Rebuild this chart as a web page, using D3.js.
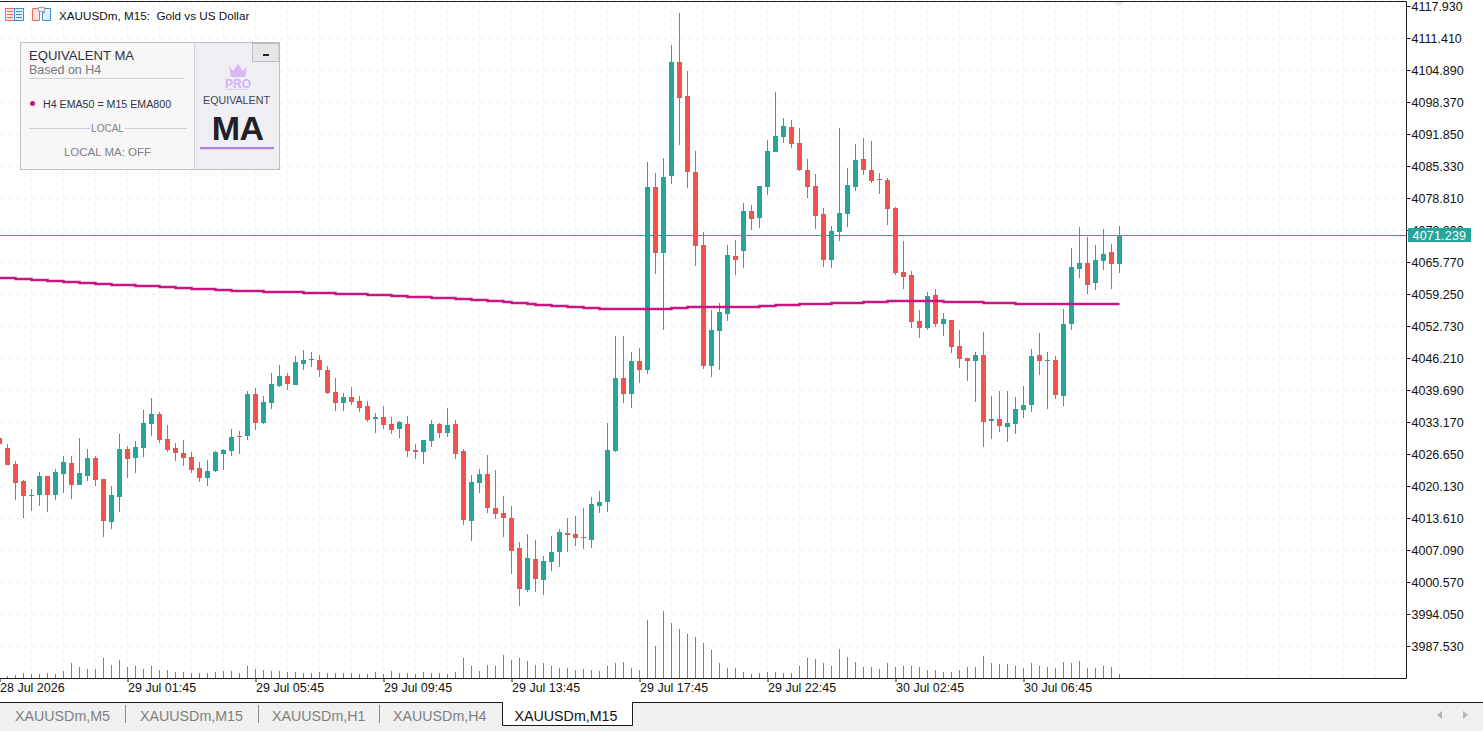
<!DOCTYPE html>
<html>
<head>
<meta charset="utf-8">
<title>XAUUSDm, M15</title>
<script src="https://cdn.jsdelivr.net/npm/d3@7"></script>
<style>
html, body { margin: 0; padding: 0; background: #fff; overflow: hidden; }
svg { display: block; }
text { font-family: "Liberation Sans", Arial, sans-serif; }
.axis text { font-size: 12.5px; fill: #111; }
</style>
</head>
<body>
<svg id="chart"></svg>
<script>
const opens = [
  4029.9,4027.9,4024.6,4021.1,4018.1,4018.3,4022.2,4018.3,4022.6,4024.8,
  4020.3,4022.2,4025.8,4021.5,4012.8,4017.9,4027.7,4025.8,4027.9,4032.8,
  4034.8,4029.7,4027.9,4026.8,4026.0,4023.8,4021.7,4023.2,4026.6,4027.2,
  4030.3,4030.3,4038.9,4033.0,4037.0,4040.5,4042.5,4040.7,4045.0,4045.8,
  4045.8,4043.8,4039.3,4037.0,4038.3,4037.4,4036.4,4033.8,4034.2,4032.8,
  4031.7,4032.8,4027.5,4027.0,4029.3,4032.8,4030.9,4032.8,4027.2,4013.0,
  4020.7,4022.6,4015.6,4014.6,4013.6,4007.5,3998.9,4005.3,4001.0,4004.6,
  4006.7,4010.5,4010.3,4009.7,4009.1,4016.1,4016.9,4027.2,4042.1,4038.9,
  4045.6,4043.8,4081.0,4067.6,4083.3,4106.5,4099.6,4084.1,4069.2,4044.6,
  4051.7,4055.2,4067.0,4068.0,4076.2,4074.7,4081.0,4088.2,4091.2,4093.3,
  4090.0,4084.5,4081.3,4075.5,4066.2,4071.9,4075.5,4081.0,4086.8,4084.5,
  4082.7,4082.5,4076.8,4063.7,4063.1,4053.7,4052.3,4059.0,4053.1,4053.9,
  4048.7,4046.2,4045.6,4046.8,4033.4,4033.8,4032.1,4032.8,4035.6,4036.6,
  4046.8,4045.6,4045.8,4038.5,4053.1,4064.3,4065.6,4061.5,4066.0,4067.8,
  4065.4
];
const highs = [
  4030.1,4028.7,4025.2,4021.3,4019.5,4023.0,4022.2,4023.6,4026.2,4026.2,
  4029.9,4027.7,4026.2,4021.5,4020.1,4030.7,4028.3,4029.3,4035.6,4038.1,
  4035.2,4032.6,4028.9,4029.5,4027.0,4025.0,4025.4,4027.2,4027.7,4031.7,
  4031.3,4039.5,4040.1,4038.5,4043.1,4044.8,4043.1,4046.6,4047.8,4047.4,
  4046.8,4044.6,4042.1,4039.1,4040.3,4038.5,4037.4,4035.0,4036.4,4034.2,
  4033.4,4034.4,4028.7,4029.5,4033.6,4033.0,4036.0,4033.6,4027.7,4022.4,
  4023.6,4026.4,4023.4,4018.1,4016.1,4008.7,4010.3,4009.1,4005.9,4009.9,
  4011.4,4013.6,4014.0,4015.6,4017.9,4019.1,4033.0,4050.7,4050.7,4047.4,
  4048.2,4086.1,4083.9,4087.0,4110.0,4116.5,4104.7,4088.4,4071.9,4056.0,
  4057.4,4069.2,4070.3,4077.8,4077.4,4081.3,4090.6,4100.4,4095.1,4094.7,
  4093.1,4086.8,4083.7,4076.8,4073.1,4093.1,4084.9,4089.8,4091.0,4090.4,
  4083.9,4082.9,4077.0,4070.0,4063.9,4056.0,4059.7,4060.3,4055.4,4053.9,
  4051.9,4046.2,4047.4,4051.5,4038.5,4039.5,4039.5,4038.3,4040.5,4048.0,
  4051.3,4047.4,4046.6,4056.2,4068.6,4072.9,4070.9,4069.2,4072.5,4069.4,
  4073.1
];
const lows = [
  4028.7,4024.4,4017.3,4013.6,4015.0,4016.1,4014.8,4017.3,4018.7,4017.5,
  4020.3,4021.1,4020.1,4009.7,4011.4,4014.8,4021.7,4022.8,4026.0,4030.3,
  4028.9,4027.0,4025.2,4024.2,4022.8,4020.9,4020.1,4023.0,4023.4,4026.2,
  4026.6,4029.5,4031.5,4032.8,4035.8,4040.3,4039.7,4040.7,4043.8,4044.4,
  4042.3,4038.9,4035.4,4035.4,4036.6,4035.2,4033.2,4030.9,4031.7,4030.7,
  4029.9,4026.0,4025.6,4024.6,4028.1,4029.9,4030.1,4025.6,4012.2,4008.9,
  4018.7,4014.6,4013.4,4009.7,4002.2,3995.7,3998.5,3998.5,3997.9,4002.8,
  4003.6,4006.7,4007.9,4007.3,4007.5,4014.6,4014.8,4027.0,4037.0,4036.0,
  4041.1,4042.9,4063.3,4051.9,4081.7,4089.6,4080.9,4065.0,4044.0,4042.3,
  4043.8,4053.7,4063.1,4064.5,4072.3,4072.7,4079.4,4088.2,4090.0,4089.0,
  4084.3,4078.8,4072.5,4064.8,4064.5,4070.0,4072.9,4080.2,4083.5,4081.9,
  4079.6,4073.3,4063.1,4060.3,4052.3,4050.3,4051.9,4052.5,4050.7,4047.2,
  4044.2,4041.5,4037.2,4028.1,4029.7,4031.1,4029.1,4030.7,4034.0,4035.2,
  4042.7,4035.8,4037.9,4036.4,4051.9,4062.5,4059.2,4060.1,4064.1,4060.3,
  4063.5
];
const closes = [
  4028.7,4024.4,4020.7,4018.1,4018.3,4022.2,4018.3,4023.0,4025.0,4020.3,
  4022.8,4025.8,4021.3,4013.0,4018.3,4027.7,4025.6,4028.1,4033.0,4034.8,
  4029.5,4027.5,4026.8,4025.8,4023.4,4021.7,4023.2,4027.0,4027.5,4030.1,
  4030.1,4038.9,4033.0,4037.2,4040.9,4042.5,4040.9,4045.4,4045.8,4046.0,
  4043.8,4039.1,4037.0,4038.3,4037.2,4036.0,4033.6,4034.2,4032.6,4031.5,
  4033.2,4027.2,4027.0,4029.5,4032.8,4030.9,4032.6,4026.6,4013.2,4020.9,
  4022.6,4015.6,4014.4,4013.6,4006.9,3999.1,4005.5,4001.2,4004.9,4006.7,
  4010.7,4010.1,4009.5,4009.5,4016.5,4016.9,4027.5,4042.1,4038.9,4045.6,
  4043.8,4081.0,4067.6,4083.1,4106.5,4099.2,4084.1,4069.0,4044.6,4051.9,
  4055.6,4067.2,4066.2,4076.2,4074.5,4081.3,4088.4,4091.4,4093.5,4089.8,
  4084.5,4081.0,4075.1,4066.2,4072.1,4075.8,4081.5,4086.6,4084.5,4082.3,
  4082.5,4076.6,4063.5,4062.7,4053.5,4052.3,4058.8,4053.1,4054.2,4048.4,
  4046.0,4045.6,4046.8,4033.2,4033.8,4032.3,4033.0,4035.8,4036.6,4046.6,
  4045.6,4045.8,4038.7,4053.1,4064.8,4065.6,4061.1,4066.2,4067.4,4065.4,
  4071.239
];
// H4 EMA50 as drawn on M15, one value per bar
const maValues = [
  4062.5,4062.5,4062.3,4062.3,4062.1,4062.1,4061.9,4061.9,4061.7,4061.7,
  4061.5,4061.5,4061.3,4061.3,4061.1,4061.1,4061.1,4060.9,4060.9,4060.9,
  4060.7,4060.7,4060.5,4060.5,4060.3,4060.3,4060.3,4060.1,4060.1,4059.9,
  4059.9,4059.9,4059.9,4059.7,4059.7,4059.7,4059.7,4059.7,4059.4,4059.4,
  4059.4,4059.4,4059.2,4059.2,4059.2,4059.2,4059.0,4059.0,4059.0,4058.8,
  4058.8,4058.6,4058.6,4058.6,4058.4,4058.4,4058.4,4058.2,4058.2,4058.0,
  4058.0,4057.8,4057.8,4057.6,4057.4,4057.4,4057.2,4057.0,4057.0,4056.8,
  4056.8,4056.6,4056.6,4056.4,4056.4,4056.2,4056.2,4056.2,4056.2,4056.2,
  4056.2,4056.2,4056.2,4056.2,4056.4,4056.4,4056.6,4056.6,4056.6,4056.6,
  4056.6,4056.6,4056.6,4056.6,4056.6,4056.8,4056.8,4057.0,4057.0,4057.0,
  4057.2,4057.2,4057.2,4057.2,4057.4,4057.4,4057.4,4057.4,4057.6,4057.6,
  4057.6,4057.8,4057.8,4057.8,4057.8,4057.8,4057.8,4057.8,4057.6,4057.6,
  4057.6,4057.6,4057.6,4057.4,4057.4,4057.4,4057.4,4057.2,4057.2,4057.2,
  4057.2,4057.2,4057.2,4057.2,4057.2,4057.2,4057.2,4057.2,4057.2,4057.2,
  4057.2
];
const volumes = [
  200,200,300,500,400,400,500,400,700,1500,
  1100,900,900,2000,1300,1800,1100,1200,900,1200,
  800,800,600,600,500,500,500,600,700,700,
  500,1200,900,800,700,700,600,600,500,500,
  600,500,500,500,500,400,400,600,400,700,
  500,500,400,600,500,500,400,600,2000,1200,
  700,1300,1200,2300,1800,2000,1700,1300,1500,1200,
  1000,1000,800,900,800,700,1200,1500,1600,1000,
  800,5800,3200,6700,5500,4900,4400,4100,3500,2800,
  1500,1000,1000,600,400,500,600,600,500,500,
  1200,2000,1900,1500,1200,2900,2100,1600,1100,1100,
  900,1500,1100,1200,1200,1100,800,800,600,600,
  800,1100,1100,2200,1500,1400,1400,1200,1000,1500,
  1200,1100,1000,1600,1500,1700,1000,1000,1200,1100,
  400
];
const priceTicks = [
  4117.93,4111.41,4104.89,4098.37,4091.85,4085.33,4078.81,4072.29,4065.77,4059.25,4052.73,
  4046.21,4039.69,4033.17,4026.65,4020.13,4013.61,4007.09,4000.57,3994.05,3987.53
];
const timeBars = [0, 16, 32, 48, 64, 80, 96, 112, 128];
const timeLabels = ['28 Jul 2026','29 Jul 01:45','29 Jul 05:45','29 Jul 09:45','29 Jul 13:45','29 Jul 17:45','29 Jul 22:45','30 Jul 02:45','30 Jul 06:45'];
const tabNames = ['XAUUSDm,M5','XAUUSDm,M15','XAUUSDm,H1','XAUUSDm,H4','XAUUSDm,M15'];
const lastPrice = 4071.239;

const W = 1483, H = 731;
const plotRight = 1407, plotBottom = 678;
const green = '#26a69a', red = '#ef5350', maColor = '#c71585';
const ink = '#1a1a1a';

const svg = d3.select('#chart').attr('width', W).attr('height', H);

// scales: 8px per bar, 32px per price step
const xScale = d3.scaleLinear().domain([0, 140]).range([-0.5, 1119.5]);
const yScale = d3.scaleLinear().domain([4117.93, 3987.53]).range([6, 646]);
const volScale = d3.scaleLinear().domain([0, 6700]).range([plotBottom, 611]);
const py = p => Math.round(yScale(p));

const bars = d3.range(opens.length).map(i => ({
  i, open: opens[i], high: highs[i], low: lows[i], close: closes[i], ma: maValues[i], vol: volumes[i]
}));
const barColor = d => d.close >= d.open ? green : red;

// dashed grid
const grid = svg.append('g').attr('stroke', '#f1f1f1').attr('stroke-dasharray', '4,4');
grid.selectAll('.h').data(priceTicks).enter().append('line')
  .attr('x1', 0).attr('x2', plotRight)
  .attr('y1', d => py(d) + 0.5).attr('y2', d => py(d) + 0.5);
grid.selectAll('.v').data(d3.range(4, 176, 4)).enter().append('line')
  .attr('x1', d => xScale(d)).attr('x2', d => xScale(d))
  .attr('y1', 2).attr('y2', plotBottom);

// volumes
svg.append('g').selectAll('rect').data(bars).enter().append('rect')
  .attr('x', d => xScale(d.i) - 0.5).attr('width', 1)
  .attr('y', d => Math.round(volScale(d.vol)))
  .attr('height', d => plotBottom - Math.round(volScale(d.vol)))
  .attr('fill', green);

// last price line
svg.append('line')
  .attr('x1', 0).attr('x2', plotRight)
  .attr('y1', py(lastPrice) + 0.5).attr('y2', py(lastPrice) + 0.5)
  .attr('stroke', green);

// candles
const candles = svg.append('g').selectAll('g').data(bars).enter().append('g').attr('fill', barColor);
candles.append('rect')
  .attr('x', d => xScale(d.i) - 0.5).attr('width', 1)
  .attr('y', d => py(d.high))
  .attr('height', d => py(d.low) - py(d.high));
candles.append('rect')
  .attr('x', d => xScale(d.i) - 2.5).attr('width', 5)
  .attr('y', d => py(Math.max(d.open, d.close)))
  .attr('height', d => Math.max(1, py(Math.min(d.open, d.close)) - py(Math.max(d.open, d.close))));

// moving average
const maLine = d3.line().x(d => xScale(d.i)).y(d => py(d.ma)).curve(d3.curveStepAfter);
svg.append('path').datum(bars)
  .attr('d', maLine)
  .attr('fill', 'none').attr('stroke', maColor).attr('stroke-width', 2.4);

// chart shift marker
svg.append('path').attr('d', 'M1113,2H1124L1118.5,7Z').attr('fill', '#ececec');

// frame
svg.append('path')
  .attr('d', `M0,1.5H${plotRight - 0.5}V${plotBottom + 0.5}H0`)
  .attr('fill', 'none').attr('stroke', ink);

// axes
const yAxis = svg.append('g').attr('class', 'axis')
  .attr('transform', `translate(${plotRight - 0.5},0)`)
  .call(d3.axisRight(yScale).tickValues(priceTicks).tickFormat(d3.format('.3f')).tickSize(4).tickPadding(1));
yAxis.select('.domain').remove();
yAxis.selectAll('.tick line').attr('stroke', ink);
yAxis.selectAll('text').attr('fill', '#111');

const xAxis = svg.append('g').attr('class', 'axis')
  .attr('transform', `translate(0,${plotBottom})`)
  .call(d3.axisBottom(xScale).tickValues(timeBars).tickFormat((d, i) => timeLabels[i]).tickSize(4).tickPadding(1));
xAxis.select('.domain').remove();
xAxis.selectAll('.tick line').attr('stroke', ink);
xAxis.selectAll('text').attr('text-anchor', 'start').attr('fill', '#111');

// last price tag, sits over the 4072.290 label
svg.append('rect').attr('x', 1408).attr('y', 228).attr('width', 63).attr('height', 14).attr('fill', green);
svg.append('text').attr('x', 1412.5).attr('y', 239.5).attr('font-size', 12.5).attr('fill', '#fff')
  .attr('letter-spacing', 0.2).text(d3.format('.3f')(lastPrice));

// header
const header = svg.append('g');
header.append('rect').attr('x', 5.5).attr('y', 8.5).attr('width', 18).attr('height', 12).attr('fill', '#fff').attr('stroke', '#ef6a5a');
header.append('rect').attr('x', 5.5).attr('y', 8.5).attr('width', 9).attr('height', 12).attr('fill', '#fde3df').attr('stroke', '#ef6a5a');
header.append('rect').attr('x', 14.5).attr('y', 8.5).attr('width', 9).attr('height', 12).attr('fill', '#e3f0fa').attr('stroke', '#3d8fd0');
[11, 14, 17].forEach(v => {
  header.append('line').attr('x1', 7).attr('x2', 13).attr('y1', v + 0.5).attr('y2', v + 0.5).attr('stroke', '#ef6a5a');
  header.append('line').attr('x1', 16).attr('x2', 22).attr('y1', v + 0.5).attr('y2', v + 0.5).attr('stroke', '#3d8fd0');
});
header.append('path').attr('d', 'M32.5,8.5H39.5V20.5H32.5Z').attr('fill', '#fde3df').attr('stroke', '#ef6a5a');
header.append('path').attr('d', 'M42.5,12.5H44.5V8.5H50.5V20.5H42.5Z').attr('fill', '#e3f0fa').attr('stroke', '#3d8fd0');
header.append('rect').attr('x', 38.5).attr('y', 7.5).attr('width', 6).attr('height', 4).attr('fill', '#eee').attr('stroke', '#aaa');
header.append('text').attr('x', 59).attr('y', 20).attr('font-size', 11.7).attr('fill', '#111')
  .attr('xml:space', 'preserve').text('XAUUSDm, M15:  Gold vs US Dollar');

// EQUIVALENT MA panel
const panel = svg.append('g');
panel.append('rect').attr('x', 20.5).attr('y', 42.5).attr('width', 259).attr('height', 127).attr('fill', '#f7f7f8').attr('stroke', '#bdbdc2');
panel.append('rect').attr('x', 194.5).attr('y', 43).attr('width', 84.5).attr('height', 126).attr('fill', '#eeeef3');
panel.append('line').attr('x1', 194.5).attr('x2', 194.5).attr('y1', 43).attr('y2', 169).attr('stroke', '#d2d2d8');
panel.append('rect').attr('x', 252.5).attr('y', 43.5).attr('width', 26.5).attr('height', 18).attr('fill', '#e6e6e8').attr('stroke', '#bdbdc2');
panel.append('rect').attr('x', 263).attr('y', 54).attr('width', 6).attr('height', 2).attr('fill', '#222');
const panelText = (x, y, size, color, str, anchor, weight) => panel.append('text')
  .attr('x', x).attr('y', y).attr('font-size', size).attr('fill', color)
  .attr('text-anchor', anchor || 'start').attr('font-weight', weight || 'normal').text(str);
panelText(29, 60, 13.1, '#2e2e3c', 'EQUIVALENT MA');
panelText(29, 74, 12.5, '#787880', 'Based on H4');
panel.append('line').attr('x1', 29).attr('x2', 184).attr('y1', 78.5).attr('y2', 78.5).attr('stroke', '#cfcfd4');
panel.append('circle').attr('cx', 32.5).attr('cy', 103.5).attr('r', 2.5).attr('fill', maColor);
panelText(43, 108, 10.65, '#33333d', 'H4 EMA50 = M15 EMA800');
panel.append('line').attr('x1', 29).attr('x2', 90).attr('y1', 128.5).attr('y2', 128.5).attr('stroke', '#cfcfd4');
panel.append('line').attr('x1', 125).attr('x2', 187).attr('y1', 128.5).attr('y2', 128.5).attr('stroke', '#cfcfd4');
panelText(107.5, 132, 10, '#808088', 'LOCAL', 'middle');
panelText(107.5, 156, 11.5, '#808088', 'LOCAL MA: OFF', 'middle');
panel.append('path').attr('d', 'M229,66L233,71L238,64L243,71L247,66L245,77H231Z').attr('fill', '#d9b8f5');
panelText(238, 88, 12, '#d5b3f5', 'PRO', 'middle', 'bold');
panel.append('line').attr('x1', 226).attr('x2', 249).attr('y1', 89.5).attr('y2', 89.5).attr('stroke', '#e0ccf5');
panelText(236.5, 104, 10.7, '#444450', 'EQUIVALENT', 'middle');
panelText(237.5, 140, 34, '#202026', 'MA', 'middle', 'bold').attr('letter-spacing', -0.6);
panel.append('rect').attr('x', 200).attr('y', 149).attr('width', 74).attr('height', 1).attr('fill', '#ddd8e6');
panel.append('rect').attr('x', 200).attr('y', 147).attr('width', 74).attr('height', 2).attr('fill', '#b07fdc');

// tab strip
const tabY = 702, tabBottom = 725;
svg.append('rect').attr('x', 0).attr('y', tabY).attr('width', W).attr('height', H - tabY).attr('fill', '#f0f0f0');
svg.append('line').attr('x1', 0).attr('x2', W).attr('y1', tabY + 0.5).attr('y2', tabY + 0.5).attr('stroke', ink);
svg.append('path')
  .attr('d', `M502.5,${tabY + 0.5}V${tabBottom + 0.5}H632.5V${tabY + 0.5}`)
  .attr('fill', '#fff').attr('stroke', ink);
svg.append('line').attr('x1', 503).attr('x2', 632).attr('y1', tabY + 0.5).attr('y2', tabY + 0.5).attr('stroke', '#fff');
const tabX = [15, 140, 272, 393, 514.5];
svg.append('g').selectAll('text').data(tabNames).enter().append('text')
  .attr('x', (d, i) => tabX[i]).attr('y', 721)
  .attr('font-size', 14.25)
  .attr('fill', (d, i) => i === 4 ? '#111' : '#808080')
  .text(d => d);
[125.5, 258.5, 379.5].forEach(x => {
  svg.append('line').attr('x1', x).attr('x2', x).attr('y1', 705).attr('y2', 723).attr('stroke', '#8a8a8a');
});
svg.append('path').attr('d', 'M1442,711V719L1437,715Z').attr('fill', '#b4b4b4');
svg.append('path').attr('d', 'M1463,711V719L1468,715Z').attr('fill', '#b4b4b4');
</script>
</body>
</html>
